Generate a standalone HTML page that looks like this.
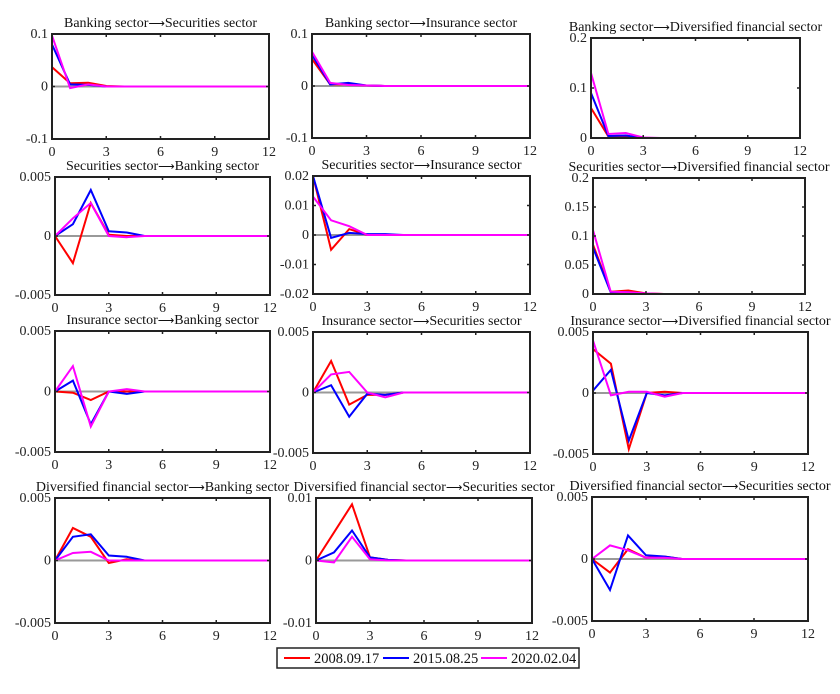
<!DOCTYPE html>
<html><head><meta charset="utf-8"><style>
html,body{margin:0;padding:0;background:#fff;}
svg{display:block;font-family:"Liberation Serif",serif;}
</style></head><body>
<svg id="chart" width="840" height="694" viewBox="0 0 840 694"></svg>
<script>
const titlesFrom = ["Banking sector","Banking sector","Banking sector",
"Securities sector","Securities sector","Securities sector",
"Insurance sector","Insurance sector","Insurance sector",
"Diversified financial sector","Diversified financial sector","Diversified financial sector"];
const titlesTo = ["Securities sector","Insurance sector","Diversified financial sector",
"Banking sector","Insurance sector","Diversified financial sector",
"Banking sector","Securities sector","Diversified financial sector",
"Banking sector","Securities sector","Securities sector"];
const seriesNames = ["2008.09.17","2015.08.25","2020.02.04"];
const seriesColors = ["#ff0000","#0000ff","#ff00ff"];
const xTicks = [0,3,6,9,12];
const yTicks = [
[-0.1,0,0.1],[-0.1,0,0.1],[0,0.1,0.2],
[-0.005,0,0.005],[-0.02,-0.01,0,0.01,0.02],[0,0.05,0.1,0.15,0.2],
[-0.005,0,0.005],[-0.005,0,0.005],[-0.005,0,0.005],
[-0.005,0,0.005],[-0.01,0,0.01],[-0.005,0,0.005]];
const redSeries = [
[0.037,0.006,0.007,0.001,0,0,0,0,0,0,0,0,0],
[0.052,0.003,0.003,0.001,0,0,0,0,0,0,0,0,0],
[0.06,0.003,0.004,0,0,0,0,0,0,0,0,0,0],
[0,-0.0023,0.0028,0.0001,0,0,0,0,0,0,0,0,0],
[0.02,-0.005,0.002,0,0,0,0,0,0,0,0,0,0],
[0.085,0.004,0.006,0.001,0,0,0,0,0,0,0,0,0],
[0,-0.0001,-0.0007,0,0,0,0,0,0,0,0,0,0],
[0,0.0026,-0.001,-0.0002,-0.0002,0,0,0,0,0,0,0,0],
[0.0036,0.0024,-0.0046,0,0.0001,0,0,0,0,0,0,0,0],
[0,0.0026,0.0019,-0.0002,0.0001,0,0,0,0,0,0,0,0],
[0,0.0045,0.009,0.0005,0.0001,0,0,0,0,0,0,0,0],
[0,-0.0011,0.0008,0.0001,0.0002,0,0,0,0,0,0,0,0]];
const blueSeries = [
[0.08,0.004,0.003,0,0,0,0,0,0,0,0,0,0],
[0.06,0.003,0.006,0.001,0,0,0,0,0,0,0,0,0],
[0.09,0.004,0.005,0,0,0,0,0,0,0,0,0,0],
[0,0.001,0.0039,0.0004,0.0003,0,0,0,0,0,0,0,0],
[0.02,-0.001,0.0007,0.0003,0.0003,0,0,0,0,0,0,0,0],
[0.08,0.003,0.003,0,0,0,0,0,0,0,0,0,0],
[0,0.0009,-0.0027,0,-0.0002,0,0,0,0,0,0,0,0],
[0,0.0006,-0.002,-0.0001,-0.0002,0,0,0,0,0,0,0,0],
[0.0002,0.0019,-0.0039,0,-0.0002,0,0,0,0,0,0,0,0],
[0,0.0019,0.0021,0.0004,0.0003,0,0,0,0,0,0,0,0],
[0,0.0013,0.0048,0.0005,0.0001,0,0,0,0,0,0,0,0],
[0,-0.0025,0.0019,0.0003,0.0002,0,0,0,0,0,0,0,0]];
const magentaSeries = [
[0.097,-0.003,0.004,0,0,0,0,0,0,0,0,0,0],
[0.066,0.006,0.002,0.001,0,0,0,0,0,0,0,0,0],
[0.13,0.008,0.01,0.001,0,0,0,0,0,0,0,0,0],
[0,0.0015,0.0028,0,-0.0001,0,0,0,0,0,0,0,0],
[0.013,0.005,0.003,0,0,0,0,0,0,0,0,0,0],
[0.11,0.004,0.003,0.001,0,0,0,0,0,0,0,0,0],
[0,0.0021,-0.0029,0,0.0002,0,0,0,0,0,0,0,0],
[0,0.0015,0.0017,0,-0.0004,0,0,0,0,0,0,0,0],
[0.0043,-0.0002,0.0001,0.0001,-0.0003,0,0,0,0,0,0,0,0],
[0,0.0006,0.0007,0,0,0,0,0,0,0,0,0,0],
[0,-0.0003,0.0038,0.0002,0,0,0,0,0,0,0,0,0],
[0,0.0011,0.0007,0.0001,0.0001,0,0,0,0,0,0,0,0]];
const allSeries = [redSeries, blueSeries, magentaSeries];
const boxes = [
[52,34,269,139],[312,34,530,138],[591,38,800,138],
[55,177,270,295],[313,176,530,294],[593,178,805,294],
[55,331,270,452],[313,332,530,453],[593,332,808,454],
[55,498,270,623],[316,498,532,623],[592,497,808,621]];
const NS="http://www.w3.org/2000/svg";
const svg=document.getElementById('chart');
function mk(tag,attrs,parent){const e=document.createElementNS(NS,tag);for(const k in attrs)e.setAttribute(k,attrs[k]);(parent||svg).appendChild(e);return e;}
boxes.forEach((b,i)=>{
  const [x0,y0,x1,y1]=b;
  const g=mk('g',{});
  
  
  const yt=yTicks[i], ymin=yt[0], ymax=yt[yt.length-1];
  const sx=v=>x0+(v-0)/(12-0)*(x1-x0);
  const sy=v=>y1-(v-ymin)/(ymax-ymin)*(y1-y0);
  const t=mk('text',{x:(x0+x1)/2,y:y0-7,'text-anchor':'middle','font-size':'14',fill:'#111'},g);
  
  
  const a=mk('tspan',{},t); a.textContent=titlesFrom[i];
  const ar=mk('tspan',{'font-family':'DejaVu Sans, sans-serif','font-size':'11.5'},t); ar.textContent='\u27F6';
  const c=mk('tspan',{},t); c.textContent=titlesTo[i];
  const z=mk('line',{x1:x0,x2:x1,y1:sy(0),y2:sy(0),stroke:'#999','stroke-width':2},g);
  
  
  allSeries.forEach((s,k)=>{
    const pts=s[i].map((v,j)=>sx(j).toFixed(1)+','+sy(v).toFixed(1)).join(' ');
    const p=mk('polyline',{points:pts,fill:'none',stroke:seriesColors[k],'stroke-width':2,'stroke-linejoin':'miter'},g);
    
    
  });
  const r=mk('rect',{x:x0,y:y0,width:x1-x0,height:y1-y0,fill:'none',stroke:'#222','stroke-width':2},g);
  
  
  xTicks.forEach(v=>{
    mk('line',{x1:sx(v),x2:sx(v),y1:y1,y2:y1-3,stroke:'#222','stroke-width':1.5},g);
    mk('line',{x1:sx(v),x2:sx(v),y1:y0,y2:y0+3,stroke:'#222','stroke-width':1.5},g);
    const tl=mk('text',{x:sx(v),y:y1+17,'text-anchor':'middle','font-size':'14',fill:'#222'},g);
    tl.textContent=v;
    
    
  });
  yt.forEach(v=>{
    mk('line',{x1:x0,x2:x0+3,y1:sy(v),y2:sy(v),stroke:'#222','stroke-width':1.5},g);
    mk('line',{x1:x1,x2:x1-3,y1:sy(v),y2:sy(v),stroke:'#222','stroke-width':1.5},g);
    const tl=mk('text',{x:x0-4,y:sy(v)+4,'text-anchor':'end','font-size':'14',fill:'#222'},g);
    tl.textContent=String(v);
    
    
  });
});
const lg=mk('g',{});


mk('rect',{x:277,y:648,width:302,height:20,fill:'#fff',stroke:'#222','stroke-width':1.5},lg);
const lx=[284,383,481];
seriesNames.forEach((n,k)=>{
  const e=mk('g',{},lg);
  
  
  mk('line',{x1:lx[k],x2:lx[k]+26,y1:658,y2:658,stroke:seriesColors[k],'stroke-width':2},e);
  const t=mk('text',{x:lx[k]+30,y:663,'font-size':'14.5',fill:'#111'},e);
  t.textContent=n;
});
</script>
</body></html>
